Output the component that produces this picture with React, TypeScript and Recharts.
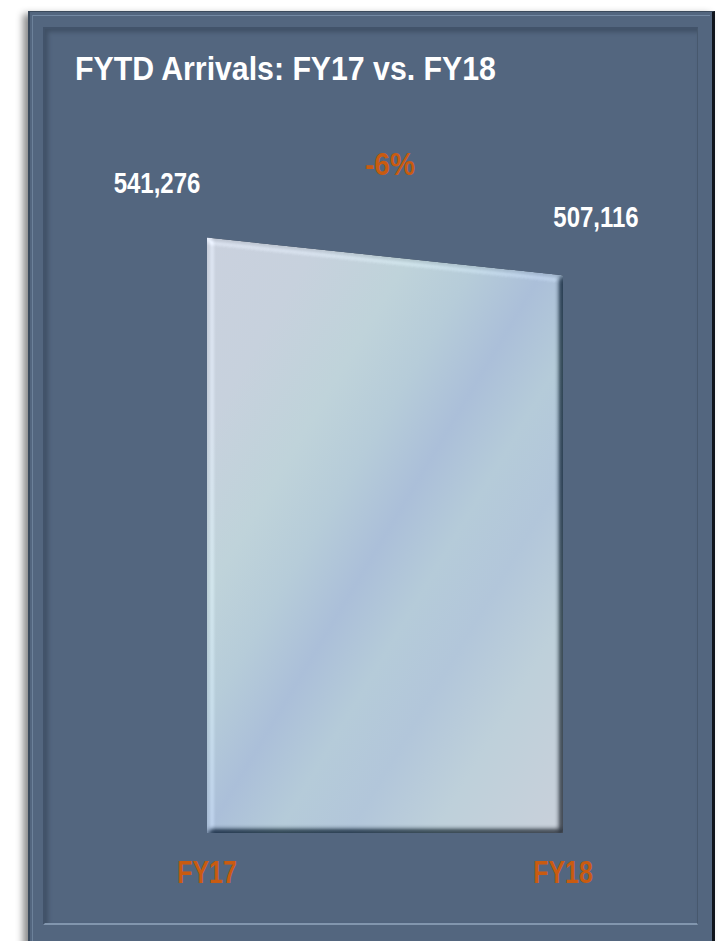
import React from "react";
import { Area, AreaChart, LabelList, XAxis, YAxis } from "recharts";

// chart values
const categories = ["FY17", "FY18"];
const arrivals = [541276, 507116];
const yDomain: [number, number] = [0, 600000];
const title = "FYTD Arrivals: FY17 vs. FY18";

const data = categories.map((name, i) => ({ name, arrivals: arrivals[i] }));
const pctChange = Math.round(((arrivals[1] - arrivals[0]) / arrivals[0]) * 100);

const W = 722;
const H = 941;
const margin = { top: 173, right: 159, bottom: 68, left: 207 };
const FONT = '"Liberation Sans", Arial, sans-serif';
const ORANGE = "#c95b10";
const BG = "#53667f";

// Arial-narrow look: squeeze a bold Liberation Sans horizontally
const NarrowText = ({ x, y, size, color, anchor = "middle", squeeze = 0.8, children }: any) => (
  <text
    transform={`translate(${x},${y}) scale(${squeeze},1)`}
    textAnchor={anchor}
    fill={color}
    fontFamily={FONT}
    fontWeight={700}
    fontSize={size}
  >
    {children}
  </text>
);

const ValueLabel = (props: any) => {
  const { x, y, value, index } = props;
  const first = index === 0;
  return (
    <NarrowText x={first ? x - 50 : x + 33} y={first ? y - 45 : y - 48} size={30} color="#ffffff">
      {Number(value).toLocaleString("en-US")}
    </NarrowText>
  );
};

const CategoryTick = (props: any) => {
  const { x, y, payload } = props;
  return (
    <NarrowText x={x} y={y + 50} size={32} color={ORANGE} squeeze={0.78}>
      {payload.value}
    </NarrowText>
  );
};

export default function App() {
  const plotMid = margin.left + (W - margin.left - margin.right) / 2;
  return (
    <div style={{ position: "absolute", left: 0, top: 0, width: W, height: H, background: "#fff", overflow: "hidden" }}>
      {/* outer frame */}
      <div
        style={{
          position: "absolute",
          left: 28,
          top: 11,
          width: 682,
          height: 940,
          background: BG,
          borderLeft: "2px solid #3b4a5c",
          borderTop: "1px solid #3b4a5c",
          borderRight: "3px solid #10151c",
          boxShadow: "-5px 3px 7px rgba(0,0,0,0.45)",
        }}
      >
        <div style={{ position: "absolute", left: 2, top: 3, right: 2, height: 1, background: "#7389a3" }} />
        <div style={{ position: "absolute", left: 2, top: 3, width: 1, bottom: 0, background: "#6c819a" }} />
      </div>
      {/* inner panel */}
      <div
        style={{
          position: "absolute",
          left: 43,
          top: 27,
          width: 652,
          height: 894,
          background: BG,
          borderLeft: "2px solid #42536a",
          borderTop: "2px solid #42536a",
          borderRight: "1px solid #47586d",
          borderBottom: "2px solid #8296ae",
          boxShadow: "inset 3px 3px 4px rgba(30,40,55,0.35)",
        }}
      />
      <svg width={W} height={H} style={{ position: "absolute", left: 0, top: 0 }}>
        <NarrowText x={75} y={80} size={34} color="#ffffff" anchor="start" squeeze={0.89}>
          {title}
        </NarrowText>
        <NarrowText x={plotMid + 5} y={175} size={32} color={ORANGE} squeeze={0.88}>
          {`${pctChange}%`}
        </NarrowText>
      </svg>
      <div style={{ position: "absolute", left: 0, top: 0 }}>
        <AreaChart width={W} height={H} data={data} margin={margin}>
          <defs>
            <linearGradient id="glass" x1="0" y1="0" x2="1" y2="1">
              <stop offset="0%" stopColor="#cad1de" />
              <stop offset="16%" stopColor="#c7d1dd" />
              <stop offset="30%" stopColor="#bfd3da" />
              <stop offset="40%" stopColor="#b6ccd9" />
              <stop offset="50%" stopColor="#abbfd9" />
              <stop offset="60%" stopColor="#b5cbd9" />
              <stop offset="70%" stopColor="#b2c6da" />
              <stop offset="82%" stopColor="#bed0da" />
              <stop offset="100%" stopColor="#c9d0da" />
            </linearGradient>
            <filter id="bevel" x="-5%" y="-5%" width="110%" height="110%" colorInterpolationFilters="sRGB">
              <feGaussianBlur in="SourceAlpha" stdDeviation="3" result="blur" />
              <feDiffuseLighting in="blur" surfaceScale="6" diffuseConstant="1" lightingColor="#ffffff" result="diff">
                <feDistantLight azimuth={225} elevation={55} />
              </feDiffuseLighting>
              <feComposite in="SourceGraphic" in2="diff" operator="arithmetic" k1={0} k2={1} k3={0.75} k4={-0.614} result="lit" />
              <feComposite in="lit" in2="SourceAlpha" operator="in" />
            </filter>
          </defs>
          <XAxis
            dataKey="name"
            axisLine={false}
            tickLine={false}
            tickSize={0}
            tickMargin={0}
            height={40}
            tick={<CategoryTick />}
            interval={0}
          />
          <YAxis hide domain={yDomain} />
          <Area
            type="linear"
            dataKey="arrivals"
            stroke="none"
            fill="url(#glass)"
            fillOpacity={1}
            filter="url(#bevel)"
            isAnimationActive={false}
            dot={false}
            activeDot={false}
          >
            <LabelList dataKey="arrivals" content={<ValueLabel />} />
          </Area>
        </AreaChart>
      </div>
    </div>
  );
}
